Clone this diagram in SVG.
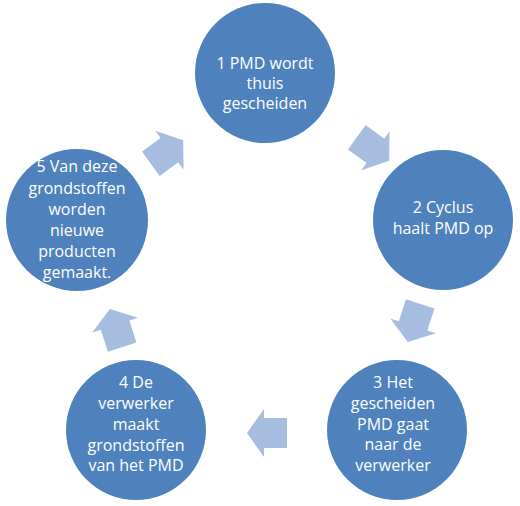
<svg xmlns="http://www.w3.org/2000/svg" width="520" height="506" viewBox="0 0 520 506">
<defs>
<style>
.node circle{fill:#4F81BD;}
.node text{fill:#ffffff;font-family:"Open Sans","Liberation Sans",sans-serif;font-size:16px;text-anchor:middle;}
.arr{fill:#A7BDE0;}
</style>
<path id="arrow" d="M-20,-15 L3,-15 L3,-24 L20,0 L3,24 L3,15 L-20,15 Z"/>
</defs>
<rect width="520" height="506" fill="#ffffff"/>
<g id="connectors">
<use href="#arrow" class="arr" transform="translate(167,152) rotate(-36)"/>
<use href="#arrow" class="arr" transform="translate(373,149) rotate(36)"/>
<use href="#arrow" class="arr" transform="translate(414,323) rotate(108)"/>
<use href="#arrow" class="arr" transform="translate(267,433) rotate(180)"/>
<use href="#arrow" class="arr" transform="translate(116,328) rotate(252)"/>
</g>
<g id="node1" class="node">
<circle cx="265" cy="73" r="70"/>
<text x="265" y="69">1 PMD wordt</text>
<text x="265" y="89">thuis</text>
<text x="265" y="109">gescheiden</text>
</g>
<g id="node2" class="node">
<circle cx="443" cy="220" r="70"/>
<text x="443" y="213">2 Cyclus</text>
<text x="443" y="234">haalt PMD op</text>
</g>
<g id="node3" class="node">
<circle cx="397" cy="430" r="70"/>
<text x="393" y="388">3 Het</text>
<text x="393" y="409">gescheiden</text>
<text x="393" y="430">PMD gaat</text>
<text x="393" y="450">naar de</text>
<text x="393" y="471">verwerker</text>
</g>
<g id="node4" class="node">
<circle cx="136" cy="430" r="70"/>
<text x="136" y="388">4 De</text>
<text x="136" y="409">verwerker</text>
<text x="136" y="430">maakt</text>
<text x="136" y="451">grondstoffen</text>
<text x="136" y="471">van het PMD</text>
</g>
<g id="node5" class="node">
<circle cx="77" cy="220" r="71"/>
<text x="77" y="172">5 Van deze</text>
<text x="77" y="194">grondstoffen</text>
<text x="77" y="215">worden</text>
<text x="77" y="236">nieuwe</text>
<text x="77" y="257">producten</text>
<text x="77" y="278">gemaakt.</text>
</g>
</svg>
